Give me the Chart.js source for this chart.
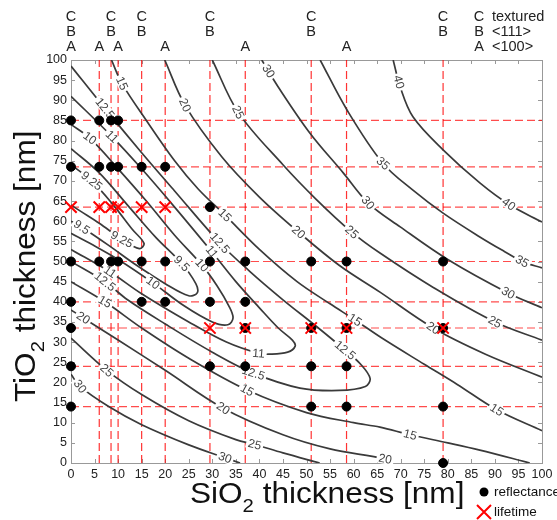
<!DOCTYPE html>
<html>
<head>
<meta charset="utf-8">
<script src="https://cdn.jsdelivr.net/npm/chart.js@4.4.1/dist/chart.umd.min.js"></script>
<style>
  html, body { margin: 0; padding: 0; background: #fff; }
</style>
</head>
<body>
<canvas id="graf" width="557" height="520"></canvas>
<script>
"use strict";

// SiO2 thickness of the columns, A = <100>, B/C = <111> and textured
const siO2A  = [0, 6, 10, 20, 37, 58.5];
const siO2BC = [0, 8.5, 15, 29.5, 51, 79];
// TiO2 thickness of the rows
const tiO2Rows = [85, 73.5, 63.5, 50, 40, 33.5, 24, 14];

// reflectance samples
const reflX = [0, 6, 8.5, 10,
               0, 6, 8.5, 10, 15, 20,
               29.5,
               0, 6, 8.5, 10, 15, 20, 29.5, 37, 51, 58.5, 79,
               0, 15, 20, 29.5, 37,
               0, 37, 51, 58.5, 79,
               0, 29.5, 37, 51, 58.5,
               0, 51, 58.5, 79,
               79];
const reflY = [85, 85, 85, 85,
               73.5, 73.5, 73.5, 73.5, 73.5, 73.5,
               63.5,
               50, 50, 50, 50, 50, 50, 50, 50, 50, 50, 50,
               40, 40, 40, 40, 40,
               33.5, 33.5, 33.5, 33.5, 33.5,
               24, 24, 24, 24, 24,
               14, 14, 14, 14,
               0];

// lifetime samples
const lifeX = [0, 6, 8.5, 10, 15, 20, 29.5, 37, 51, 58.5, 79];
const lifeY = [63.5, 63.5, 63.5, 63.5, 63.5, 63.5, 33.5, 33.5, 33.5, 33.5, 33.5];

// contour lines of the weighted reflectance [%], points as [SiO2, TiO2]
const c40  = [[68.4,100],[69.9,93.3],[72.6,85.9],[79,77.7],[86.8,69.5],[93.2,64],[100,59.8]];
const c35  = [[52.9,100],[58.6,87.6],[66.2,74.4],[72.6,67.7],[79,62],[86.8,56.1],[92,52.5],[96,49.9],[100,48.4]];
const c30  = [[40.5,100],[44,93.3],[50.7,81.9],[57.8,72],[63.1,64.5],[69.9,58.6],[80,50.5],[92.8,42.2],[100,38.5]];
const c25  = [[30,100],[35.5,87],[45,74],[52,65.5],[59.6,57.3],[65.6,52.1],[77,43.5],[90,35],[100,30.5]];
const c20  = [[19.9,100],[24.2,88.8],[32,76],[40,66],[48.3,57.3],[57,49],[65.6,42.4],[76.9,33.5],[88,27],[100,21.3]];
const c15  = [[8.6,100],[10.8,94.2],[16,85],[22,75],[27,68],[32.7,61.5],[40,53],[48,45],[55,39.5],[60.3,35.5],[66,31],[75,24.5],[82,19.5],[90.4,13.2],[100,8]];
const c15b = [[0,45],[7.2,40],[15,33.5],[25,26],[37.4,18.1],[50,12.5],[60,10],[65.6,8.9],[72,7],[80,5],[86.8,3.2],[97.4,0]];
const c20b = [[0,38],[2.6,36],[10,30.5],[20,23],[32.3,13.6],[45,7],[55,3.5],[66.7,1],[68,0]];
const c25b = [[0,31],[7.6,23],[15,17],[25,10.5],[35,5.8],[39,4.6],[45,2.5],[52.8,0]];
const c30b = [[0,22],[1.9,19],[8,14],[15,9.5],[25,4.5],[32.7,1.3],[35.9,0]];
const c125 = [[0,98.5],[7.2,88],[15,77],[22,67.5],[31.6,54.6],[38,47.5],[45,40.5],[52,34],[58.2,28],[61.5,24.5],[63.5,21],[62.5,19],[57,18],[48.6,18.6],[38.7,22.3],[30,27.5],[20,34.5],[12,40.5],[7.2,45],[0,50]];
const c11  = [[0,91],[8.7,81],[15,73],[22,63.5],[29.9,52.4],[35,45],[40,38.5],[44,33.5],[47,30.5],[47.6,29],[46,27.5],[42,27],[39.8,27.2],[33,30],[25,35],[15,42],[8.3,47.4],[0,53]];
const c10  = [[0,84],[4,80.6],[10,73],[16,65],[22,56.5],[27.8,49.1],[31,44],[33.5,39],[34.4,36],[33.3,34.3],[30,35],[24,39],[17.4,44.7],[10,50.5],[4,54.5],[0,57]];
const c95  = [[0,78],[6,72],[12,64],[18,56],[23.5,49.5],[26.5,44.5],[26.8,42.2],[25,41.5],[20,44.5],[14,49],[8,54],[2.3,58.5],[0,60]];
const c925 = [[0,74],[4.4,70],[9,64],[13,58],[15.5,54.5],[14.5,53.2],[10.8,55.5],[6,59.5],[2,62.5],[0,64]];

const konturer = [c40, c35, c30, c25, c20, c15, c15b, c20b, c25b, c30b, c125, c11, c10, c95, c925];

// contour labels: text, SiO2, TiO2
const konturTekster = [
  ["40", 69.5, 94.5], ["40", 92.8, 64],
  ["35", 66.3, 74.4], ["35", 95.7, 49.9],
  ["30", 41.6, 97], ["30", 63, 64.5], ["30", 92.8, 42.2], ["30", 32.7, 1.3], ["30", 1.9, 19],
  ["25", 35.5, 87], ["25", 59.6, 57.3], ["25", 90, 35], ["25", 7.6, 23], ["25", 39, 4.6],
  ["20", 24.2, 88.8], ["20", 48.3, 57.3], ["20", 76.9, 33.5], ["20", 2.6, 36], ["20", 32.3, 13.6], ["20", 66.7, 1],
  ["15", 10.8, 94.2], ["15", 32.7, 61.5], ["15", 60.3, 35.5], ["15", 90.4, 13.2], ["15", 7.2, 40], ["15", 37.4, 18.1], ["15", 72, 7],
  ["12.5", 7.2, 88], ["12.5", 31.6, 54.6], ["12.5", 58.2, 28], ["12.5", 38.7, 22.3], ["12.5", 7.2, 45],
  ["11", 8.7, 81], ["11", 29.9, 52.4], ["11", 39.8, 27.2], ["11", 8.3, 47.4],
  ["10", 4, 80.6], ["10", 27.8, 49.1], ["10", 17.4, 44.7],
  ["9.5", 2.3, 58.5], ["9.5", 23.5, 49.5],
  ["9.25", 4.4, 70], ["9.25", 10.8, 55.5]
];

const FONT = "'Liberation Sans', Arial, sans-serif";

const datasets = [];
[...siO2A, ...siO2BC].filter(v => v > 0).forEach(v => {
  datasets.push({ data: [{ x: v, y: 0 }, { x: v, y: 100 }], showLine: true, borderColor: "rgba(255,0,0,0.8)",
                  borderWidth: 1.2, borderDash: [8, 4], pointRadius: 0, order: 5 });
});
tiO2Rows.forEach(v => {
  datasets.push({ data: [{ x: 0, y: v }, { x: 100, y: v }], showLine: true, borderColor: "rgba(255,0,0,0.7)",
                  borderWidth: 1.2, borderDash: [8, 4], pointRadius: 0, order: 5 });
});
konturer.forEach(k => {
  datasets.push({ data: k.map(p => ({ x: p[0], y: p[1] })), showLine: true, borderColor: "#3a3a3a",
                  borderWidth: 1.7, pointRadius: 0, tension: 0.35, order: 4, erKontur: true });
});
datasets.push({ data: reflX.map((x, i) => ({ x: x, y: reflY[i] })), pointRadius: 4.5, backgroundColor: "#000",
                borderColor: "#000", order: 2, clip: false, erPrikker: true });
datasets.push({ data: lifeX.map((x, i) => ({ x: x, y: lifeY[i] })), pointStyle: "crossRot", pointRadius: 8,
                borderColor: "#ff0000", borderWidth: 2, order: 1, clip: false });

function naermesteSegment(px, py, stier) {
  let bedst = null, bd = Infinity;
  stier.forEach(sti => {
    for (let i = 0; i < sti.length - 1; i++) {
      const [x1, y1] = sti[i], [x2, y2] = sti[i + 1];
      const dx = x2 - x1, dy = y2 - y1;
      const l2 = dx * dx + dy * dy || 1;
      let t = ((px - x1) * dx + (py - y1) * dy) / l2;
      t = Math.max(0, Math.min(1, t));
      const qx = x1 + t * dx, qy = y1 + t * dy;
      const d = (px - qx) ** 2 + (py - qy) ** 2;
      if (d < bd) { bd = d; bedst = { qx, qy, ang: Math.atan2(dy, dx) }; }
    }
  });
  return bedst;
}

const konturTekstPlugin = {
  id: "konturTekster",
  beforeDatasetDraw(chart, args) {
    if (!chart.data.datasets[args.index].erPrikker) return;
    const { ctx, scales: { x, y } } = chart;
    const stier = chart.getSortedVisibleDatasetMetas()
      .filter(m => chart.data.datasets[m.index].erKontur)
      .map(m => m.data.map(el => [el.x, el.y]));
    ctx.save();
    ctx.font = "12px " + FONT;
    ctx.textAlign = "center";
    ctx.textBaseline = "middle";
    konturTekster.forEach(([txt, lx, ly]) => {
      const px = x.getPixelForValue(lx), py = y.getPixelForValue(ly);
      const s = naermesteSegment(px, py, stier);
      let ang = s.ang;
      if (ang > Math.PI / 2) ang -= Math.PI;
      if (ang < -Math.PI / 2) ang += Math.PI;
      const w = ctx.measureText(txt).width;
      ctx.save();
      ctx.translate(s.qx, s.qy);
      ctx.rotate(ang);
      ctx.fillStyle = "#fff";
      ctx.fillRect(-w / 2 - 2, -5, w + 4, 10);
      ctx.fillStyle = "#444";
      ctx.fillText(txt, 0, 0.5);
      ctx.restore();
    });
    ctx.restore();
  }
};

// text with a subscript "2" after the first part
function tekstMedIndeks(ctx, foer, efter, x0, y0, str) {
  let cx = x0;
  ctx.font = str + "px " + FONT;
  ctx.fillText(foer, cx, y0); cx += ctx.measureText(foer).width;
  ctx.font = Math.round(str * 0.64) + "px " + FONT;
  ctx.fillText("2", cx, y0 + str * 0.32); cx += ctx.measureText("2").width;
  ctx.font = str + "px " + FONT;
  ctx.fillText(efter, cx, y0);
}

const rammePlugin = {
  id: "ramme",
  beforeDatasetsDraw(chart) {
    const { ctx, chartArea: a, scales: { x, y } } = chart;
    ctx.save();
    ctx.strokeStyle = "#999";
    ctx.lineWidth = 1;
    ctx.strokeRect(a.left + 0.5, a.top + 0.5, a.right - a.left, a.bottom - a.top);
    ctx.beginPath();
    for (let v = 5; v < 100; v += 5) {
      const px = Math.round(x.getPixelForValue(v)) + 0.5;
      ctx.moveTo(px, a.bottom); ctx.lineTo(px, a.bottom - 4);
      ctx.moveTo(px, a.top); ctx.lineTo(px, a.top + 4);
      const py = Math.round(y.getPixelForValue(v)) + 0.5;
      ctx.moveTo(a.left, py); ctx.lineTo(a.left + 4, py);
      ctx.moveTo(a.right, py); ctx.lineTo(a.right - 4, py);
    }
    ctx.stroke();
    ctx.restore();
  },
  afterDraw(chart) {
    const { ctx, scales: { x } } = chart;
    ctx.save();
    ctx.fillStyle = "#222";
    ctx.font = "14.5px " + FONT;
    ctx.textAlign = "center";
    ctx.textBaseline = "middle";
    siO2BC.forEach(v => {
      const px = x.getPixelForValue(v);
      ctx.fillText("C", px, 17);
      ctx.fillText("B", px, 32);
    });
    siO2A.forEach(v => ctx.fillText("A", x.getPixelForValue(v), 47));
    ctx.fillText("C", 479, 17);
    ctx.fillText("B", 479, 32);
    ctx.fillText("A", 479, 47);
    ctx.textAlign = "left";
    ctx.fillText("textured", 492, 17);
    ctx.fillText("<111>", 492, 32);
    ctx.fillText("<100>", 492, 47);

    // axis titles
    ctx.fillStyle = "#111";
    ctx.textBaseline = "alphabetic";
    ctx.save();
    ctx.translate(190, 503);
    ctx.scale(1.07, 1);
    tekstMedIndeks(ctx, "SiO", " thickness [nm]", 0, 0, 29.5);
    ctx.restore();

    ctx.save();
    ctx.translate(35, 402);
    ctx.rotate(-Math.PI / 2);
    ctx.scale(1.07, 1);
    tekstMedIndeks(ctx, "TiO", " thickness [nm]", 0, 0, 29.5);
    ctx.restore();

    // legend
    ctx.fillStyle = "#000";
    ctx.beginPath();
    ctx.arc(484, 492, 4.5, 0, Math.PI * 2);
    ctx.fill();
    ctx.strokeStyle = "#ff0000";
    ctx.lineWidth = 2;
    ctx.beginPath();
    ctx.moveTo(477, 505); ctx.lineTo(491, 519);
    ctx.moveTo(491, 505); ctx.lineTo(477, 519);
    ctx.stroke();
    ctx.fillStyle = "#111";
    ctx.font = "13.5px " + FONT;
    ctx.textBaseline = "middle";
    ctx.fillText("reflectance", 494, 492);
    ctx.fillText("lifetime", 494, 512);
    ctx.restore();
  }
};

new Chart(document.getElementById("graf"), {
  type: "scatter",
  data: { datasets: datasets },
  options: {
    responsive: false,
    animation: false,
    devicePixelRatio: 1,
    layout: { padding: { top: 60, right: 15, left: 0, bottom: 0 } },
    plugins: { legend: { display: false }, tooltip: { enabled: false } },
    scales: {
      x: {
        type: "linear", min: 0, max: 100,
        ticks: { stepSize: 5, color: "#222", font: { size: 12.5, family: FONT }, padding: 4, maxRotation: 0, autoSkip: false },
        grid: { display: false, drawTicks: false },
        border: { display: false },
        afterFit: s => { s.height = 57; }
      },
      y: {
        type: "linear", min: 0, max: 100,
        ticks: { stepSize: 5, color: "#222", font: { size: 12.5, family: FONT }, padding: 4, autoSkip: false },
        grid: { display: false, drawTicks: false },
        border: { display: false },
        afterFit: s => { s.width = 71; }
      }
    }
  },
  plugins: [rammePlugin, konturTekstPlugin]
});
</script>
</body>
</html>
